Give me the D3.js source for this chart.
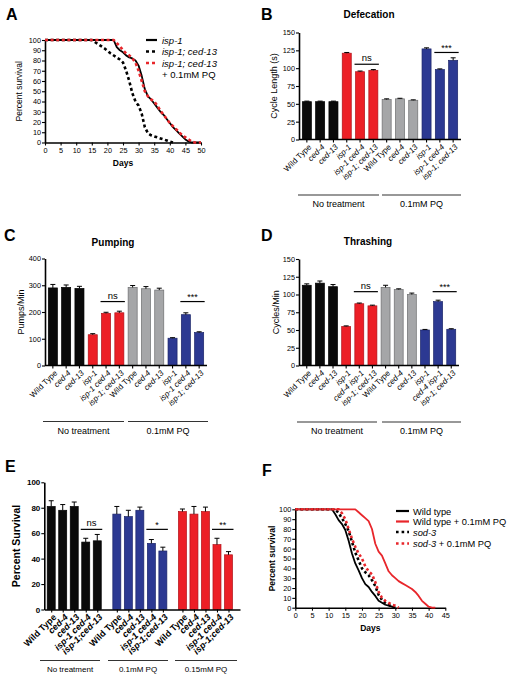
<!DOCTYPE html>
<html><head><meta charset="utf-8">
<script src="https://cdn.jsdelivr.net/npm/d3@7"></script>
<style>
body{margin:0;background:#fff;}
svg{display:block;font-family:"Liberation Sans",Arial,sans-serif;}
</style></head>
<body><svg id="c" width="512" height="677"></svg>
<script>
// ---------- DATA ----------
// Panel A
const aIspDays   = [0,22,23,24,25,26,27,28,29,30,31,32,33,34,35,36,37,38,39,40,41,42,43,44,45,46,47,50];
const aIsp       = [100,100,93,90,88,85,83,82,80,75,65,52,45,42,38,34,30,27,23,19,15,12,9,6,3,1,0,0];
const aCedDays   = [0,15,17,19,21,23,24,25,26,27,28,29,30,31,32,33,34,35,37,39,40,41];
const aCed       = [100,100,96,92,87,83,81,78,70,60,48,40,36,28,15,9,7,6,4,2,1,0];
const aCedPQDays = [0,22,23,24,25,26,27,28,29,30,31,32,33,34,35,36,37,38,39,40,41,42,43,44,45,46,47,48,50];
const aCedPQ     = [100,100,97,94,90,87,85,82,78,70,60,50,45,42,40,36,31,27,23,19,16,13,10,7,5,3,1,0,0];
const aLegend    = ["isp-1","isp-1; ced-13","isp-1; ced-13","+ 0.1mM PQ"];

// Panels B, C, D
const labelsB = ["Wild Type","ced-4","ced-13","isp-1","isp-1 ced-4","isp-1; ced-13","Wild Type","ced-4","ced-13","isp-1","isp-1 ced-4","isp-1; ced-13"];
const labelsD = ["Wild Type","ced-4","ced-13","isp-1","ced-4 isp-1","isp-1; ced-13","Wild Type","ced-4","ced-13","isp-1","ced-4 isp-1","isp-1; ced-13"];
const groupOf12 = ["k","k","k","r","r","r","g","g","g","b","b","b"];
const defecation    = [53,53,53,121,95,97,56,57,55,127,98,111];
const defecationErr = [0.8,0.8,0.8,1,1,1,1,0.8,0.6,1.5,1,3.5];
const pumping       = [290,292,288,115,195,197,292,287,282,102,190,123];
const pumpingErr    = [13,9,8,4,4,6,7,8,7,2,7,3];
const thrashing     = [113,116,111,55,87,84,110,107,100,50,90,51];
const thrashingErr  = [2,3,3,0.8,1,1,3,1,2,0.8,2,0.8];
const treatments2 = ["No treatment","0.1mM PQ"];

// Panel E
const labelsE = ["Wild Type","ced-4","ced-13","isp-1 ced-4","isp-1;ced-13","Wild Type","ced-4","ced-13","isp-1 ced-4","isp-1;ced-13","Wild Type","ced-4","ced-13","isp-1 ced-4","isp-1;ced-13"];
const groupOfE = ["k","k","k","k","k","b","b","b","b","b","r","r","r","r","r"];
const survivalE    = [81,78,81,53,54,75,73,78,52,46,77,75,77,51,43];
const survivalEErr = [4.5,4.5,3.5,3,5,6,5,2.5,3,3,2,6,3.5,5,2.5];
const treatments3 = ["No treatment","0.1mM PQ","0.15mM PQ"];

// Panel F
const fWtDays    = [0,11,12,13,14,15,16,17,18,19,20,21,22,23,24,25,26,27,28,29,30];
const fWt        = [100,100,95,89,85,79,68,55,45,38,30,24,21,16,12,7,5,3,2,1,0];
const fWtPQDays  = [0,18,19,20,21,22,23,24,25,26,27,28,29,30,31,32,33,34,35,36,37,38,39,40,41,42];
const fWtPQ      = [100,100,97,94,91,88,80,65,57,53,45,37,33,30,27,25,23,21,19,16,12,7,4,1,0,0];
const fSodDays   = [0,12,13,14,15,16,17,18,19,20,21,22,23,24,25,26,27,28,29,30];
const fSod       = [100,100,96,91,85,78,67,56,48,40,36,33,28,22,13,8,5,3,1,0];
const fSodPQDays = [0,13,14,15,16,17,18,19,20,21,22,23,24,25,26,27,28,29,30,31];
const fSodPQ     = [100,100,96,90,80,70,62,55,50,42,37,34,26,16,10,7,5,3,2,0];

// ---------- STYLE ----------
const FILL = {k:"#0a0a0a", r:"#ec1f26", g:"#a5a6a8", b:"#2c3992"};
const EDGE = {k:"#000", r:"#b01018", g:"#6d6e70", b:"#1b2468"};
const RED = "#e8262b";
const FONT = '"Liberation Sans",Arial,sans-serif';

const svg = d3.select("#c");
svg.append("rect").attr("width",512).attr("height",677).attr("fill","#fff");

function letter(t,x,y){
  svg.append("text").attr("x",x).attr("y",y).text(t)
    .attr("font-size",16).attr("font-weight","bold").attr("fill","#000");
}
function styleAxis(g, fs, bold){
  g.select(".domain").attr("stroke","#000").attr("stroke-width",1.6);
  g.selectAll(".tick line").attr("stroke","#000").attr("stroke-width",1.1);
  g.selectAll(".tick text").attr("font-size",fs).attr("font-family",FONT)
    .attr("font-weight",bold?"bold":"normal").attr("fill","#000");
}
function yLabel(t,x,y,fs,bold){
  svg.append("text").attr("transform",`translate(${x},${y}) rotate(-90)`)
    .attr("text-anchor","middle").attr("font-size",fs)
    .attr("font-weight",bold?"bold":"normal").text(t);
}
function isItalic(l){ return l !== "Wild Type"; }

// ---------- SURVIVAL PANEL ----------
function survival(o){
  const x = d3.scaleLinear().domain([0,o.xmax]).range([o.x0,o.x1]);
  const y = d3.scaleLinear().domain([0,100]).range([o.y0,o.y1]);
  const gx = svg.append("g").attr("transform",`translate(0,${o.y0})`)
    .call(d3.axisBottom(x).tickValues(d3.range(0,o.xmax+1,5)).tickSize(3).tickSizeOuter(0).tickPadding(2));
  styleAxis(gx,7.3,false);
  const gy = svg.append("g").attr("transform",`translate(${o.x0},0)`)
    .call(d3.axisLeft(y).tickValues(d3.range(0,101,10)).tickSize(3).tickSizeOuter(0).tickPadding(1));
  styleAxis(gy,7.3,false);
  const line = d3.line().x(d=>x(d[0])).y(d=>y(d[1]));
  o.series.forEach(s=>{
    svg.append("path").datum(d3.zip(s.days,s.vals)).attr("d",line)
      .attr("fill","none").attr("stroke",s.color).attr("stroke-width",s.w)
      .attr("stroke-dasharray",s.dash||null).attr("stroke-linejoin","round");
  });
  svg.append("text").attr("x",(o.x0+o.x1)/2).attr("y",o.daysY).attr("text-anchor","middle")
    .attr("font-size",8.5).attr("font-weight","bold").text("Days");
  yLabel("Percent survival",o.ylx,(o.y0+o.y1)/2,8.5,o.ylBold);
}

// Panel A
letter("A",6,20);
survival({x0:45,x1:201,y0:142.5,y1:40,xmax:50,daysY:166,ylx:22,ylBold:false,series:[
  {days:aIspDays,vals:aIsp,color:"#000",w:1.8},
  {days:aCedDays,vals:aCed,color:"#000",w:2.6,dash:"3,2.6"},
  {days:aCedPQDays,vals:aCedPQ,color:RED,w:2.6,dash:"3,2.6"}
]});
{
  const lx0=146, lx1=157, tx=162, rows=[40,51.5,63];
  const st=[{c:"#000",w:2.2,d:null},{c:"#000",w:2.6,d:"3,3"},{c:RED,w:2.6,d:"3,3"}];
  rows.forEach((ry,i)=>{
    svg.append("line").attr("x1",lx0).attr("x2",lx1).attr("y1",ry).attr("y2",ry)
      .attr("stroke",st[i].c).attr("stroke-width",st[i].w).attr("stroke-dasharray",st[i].d);
    svg.append("text").attr("x",tx).attr("y",ry+3.5).attr("font-size",9.5)
      .attr("font-style","italic").text(aLegend[i]);
  });
  svg.append("text").attr("x",tx).attr("y",77.5).attr("font-size",9.5).text(aLegend[3]);
}

// ---------- BAR PANEL ----------
function barPanel(o){
  const idx = d3.range(o.values.length);
  const x = d3.scaleBand().domain(idx).range([o.x0,o.x1]).paddingInner(0.32).paddingOuter(0.25);
  const y = d3.scaleLinear().domain([0,o.ymax]).range([o.y0,o.y1]);
  const gy = svg.append("g").attr("transform",`translate(${o.x0},0)`)
    .call(d3.axisLeft(y).tickValues(o.yticks).tickSize(3).tickSizeOuter(0).tickPadding(1));
  styleAxis(gy,7.3,false);
  // bars
  svg.append("g").selectAll("rect").data(idx).join("rect")
    .attr("x",i=>x(i)).attr("width",x.bandwidth())
    .attr("y",i=>y(o.values[i])).attr("height",i=>o.y0-y(o.values[i]))
    .attr("fill",i=>FILL[o.groups[i]]).attr("stroke",i=>EDGE[o.groups[i]]).attr("stroke-width",0.7);
  // error bars
  const eg = svg.append("g").attr("stroke","#000").attr("stroke-width",1);
  idx.forEach(i=>{
    const cx = x(i)+x.bandwidth()/2, top=y(o.values[i]+o.errs[i]);
    eg.append("line").attr("x1",cx).attr("x2",cx).attr("y1",y(o.values[i])).attr("y2",top);
    eg.append("line").attr("x1",cx-2.5).attr("x2",cx+2.5).attr("y1",top).attr("y2",top);
  });
  const gx = svg.append("g").attr("transform",`translate(0,${o.y0})`)
    .call(d3.axisBottom(x).tickFormat(i=>o.labels[i]).tickSize(3).tickSizeOuter(0));
  styleAxis(gx,8,false);
  gx.select(".domain").attr("d",`M${o.x0},0H${o.x1}`);
  gx.selectAll(".tick text").attr("text-anchor","end").attr("dy","0.35em").attr("y",0).attr("x",0)
    .attr("transform","translate(3,6) rotate(-45)")
    .attr("font-style",i=>isItalic(o.labels[i])?"italic":"normal");
  // significance
  o.sig.forEach(s=>{
    const xa = x(s.a)-1, xb = x(s.b)+x.bandwidth()+1, yy = y(s.v);
    svg.append("line").attr("x1",xa).attr("x2",xb).attr("y1",yy).attr("y2",yy)
      .attr("stroke","#000").attr("stroke-width",1.2);
    svg.append("text").attr("x",(xa+xb)/2).attr("y",yy-(s.t==="ns"?3:1.5)).attr("text-anchor","middle")
      .attr("font-size",s.t==="ns"?9.5:9).text(s.t);
  });
  // group lines
  o.groupLines.forEach((g,i)=>{
    svg.append("line").attr("x1",g[0]).attr("x2",g[1]).attr("y1",o.gy).attr("y2",o.gy)
      .attr("stroke","#333").attr("stroke-width",1.1);
    svg.append("text").attr("x",(g[0]+g[1])/2).attr("y",o.gy+12).attr("text-anchor","middle")
      .attr("font-size",9).text(o.groupNames[i]);
  });
  if(o.title) svg.append("text").attr("x",o.tx).attr("y",o.ty).attr("text-anchor","middle")
    .attr("font-size",10).attr("font-weight","bold").text(o.title);
  yLabel(o.ylabel,o.ylx,(o.y0+o.y1)/2,9,false);
}

// Panel B
letter("B",261,20);
barPanel({x0:299,x1:461,y0:139.5,y1:32.5,ymax:150,yticks:[0,25,50,75,100,125,150],
  values:defecation,errs:defecationErr,labels:labelsB,groups:groupOf12,
  sig:[{a:4,b:5,v:105.5,t:"ns"},{a:10,b:11,v:122,t:"***"}],
  groupLines:[[298,379],[382,461]],gy:195,groupNames:treatments2,
  title:"Defecation",tx:369,ty:18,ylabel:"Cycle Length (s)",ylx:277});

// Panel C
letter("C",4,241);
barPanel({x0:45,x1:207,y0:365.5,y1:258.5,ymax:400,yticks:[0,100,200,300,400],
  values:pumping,errs:pumpingErr,labels:labelsB,groups:groupOf12,
  sig:[{a:4,b:5,v:239,t:"ns"},{a:10,b:11,v:239,t:"***"}],
  groupLines:[[43,124],[128,208]],gy:421.5,groupNames:treatments2,
  title:"Pumping",tx:113,ty:246,ylabel:"Pumps/Min",ylx:24});

// Panel D
letter("D",261,241);
barPanel({x0:299,x1:459,y0:365.5,y1:259,ymax:150,yticks:[0,25,50,75,100,125,150],
  values:thrashing,errs:thrashingErr,labels:labelsD,groups:groupOf12,
  sig:[{a:4,b:5,v:104,t:"ns"},{a:10,b:11,v:104,t:"***"}],
  groupLines:[[297,377],[382,461]],gy:422,groupNames:treatments2,
  title:"Thrashing",tx:368,ty:245,ylabel:"Cycles/Min",ylx:279});

// ---------- PANEL E ----------
letter("E",5,472);
{
  const x0=44.3, x1=240, y0=609.5, y1=482.3;
  const pos = i => i + Math.floor(i/5)*0.7;
  const x = d3.scaleLinear().domain([-0.6,16.4]).range([x0,x1]);
  const y = d3.scaleLinear().domain([0,100]).range([y0,y1]);
  const bw = 8;
  const idx = d3.range(survivalE.length);
  const gy = svg.append("g").attr("transform",`translate(${x0},0)`)
    .call(d3.axisLeft(y).tickValues([0,20,40,60,80,100]).tickSize(3).tickSizeOuter(0).tickPadding(1));
  styleAxis(gy,8,true);
  svg.append("g").selectAll("rect").data(idx).join("rect")
    .attr("x",i=>x(pos(i))-bw/2).attr("width",bw)
    .attr("y",i=>y(survivalE[i])).attr("height",i=>y0-y(survivalE[i]))
    .attr("fill",i=>FILL[groupOfE[i]]).attr("stroke",i=>EDGE[groupOfE[i]]).attr("stroke-width",0.7);
  const eg = svg.append("g").attr("stroke","#000").attr("stroke-width",1);
  idx.forEach(i=>{
    const cx = x(pos(i)), top=y(survivalE[i]+survivalEErr[i]);
    eg.append("line").attr("x1",cx).attr("x2",cx).attr("y1",y(survivalE[i])).attr("y2",top);
    eg.append("line").attr("x1",cx-2.5).attr("x2",cx+2.5).attr("y1",top).attr("y2",top);
  });
  const gx = svg.append("g").attr("transform",`translate(0,${y0})`)
    .call(d3.axisBottom(x).tickValues(idx.map(pos)).tickFormat((d,i)=>labelsE[i]).tickSize(3).tickSizeOuter(0));
  styleAxis(gx,9,true);
  gx.selectAll(".tick text").attr("text-anchor","end").attr("dy","0.35em").attr("y",0).attr("x",0)
    .attr("transform","translate(3,6) rotate(-45)")
    .attr("font-style",(d,i)=>isItalic(labelsE[i])?"italic":"normal");
  const sigE = [{a:3,b:4,t:"ns",v:63},{a:8,b:9,t:"*",v:63},{a:13,b:14,t:"**",v:63}];
  sigE.forEach(s=>{
    const xa=x(pos(s.a))-bw/2-1, xb=x(pos(s.b))+bw/2+1, yy=y(s.v);
    svg.append("line").attr("x1",xa).attr("x2",xb).attr("y1",yy).attr("y2",yy)
      .attr("stroke","#000").attr("stroke-width",1.2);
    svg.append("text").attr("x",(xa+xb)/2).attr("y",yy-(s.t==="ns"?3:1.5)).attr("text-anchor","middle")
      .attr("font-size",s.t==="ns"?9.5:9).text(s.t);
  });
  const gl=[[40,100],[108,168],[175,237]];
  gl.forEach((g,i)=>{
    svg.append("line").attr("x1",g[0]).attr("x2",g[1]).attr("y1",660.5).attr("y2",660.5)
      .attr("stroke","#333").attr("stroke-width",1.1);
    svg.append("text").attr("x",(g[0]+g[1])/2).attr("y",672).attr("text-anchor","middle")
      .attr("font-size",8).text(treatments3[i]);
  });
  yLabel("Percent  Survival",20,546,10.5,true);
}

// ---------- PANEL F ----------
letter("F",262,476);
survival({x0:295.3,x1:445.3,y0:607.7,y1:509.3,xmax:45,daysY:631,ylx:275,ylBold:true,series:[
  {days:fWtDays,vals:fWt,color:"#000",w:1.8},
  {days:fWtPQDays,vals:fWtPQ,color:RED,w:1.8},
  {days:fSodDays,vals:fSod,color:"#000",w:2.6,dash:"2.6,2.6"},
  {days:fSodPQDays,vals:fSodPQ,color:RED,w:2.6,dash:"2.6,2.6"}
]});
{
  const lx0=396, lx1=409, tx=413, rows=[511,521.5,532,543.5];
  const st=[{c:"#000",w:2.2,d:null},{c:RED,w:2.2,d:null},{c:"#000",w:2.6,d:"2.6,3"},{c:RED,w:2.6,d:"2.6,3"}];
  rows.forEach((ry,i)=>{
    svg.append("line").attr("x1",lx0).attr("x2",lx1).attr("y1",ry).attr("y2",ry)
      .attr("stroke",st[i].c).attr("stroke-width",st[i].w).attr("stroke-dasharray",st[i].d);
  });
  const t=(ry)=>svg.append("text").attr("x",tx).attr("y",ry+3.5).attr("font-size",9.3);
  t(rows[0]).text("Wild type");
  t(rows[1]).text("Wild type + 0.1mM PQ");
  t(rows[2]).attr("font-style","italic").text("sod-3");
  const l4=t(rows[3]);
  l4.append("tspan").attr("font-style","italic").text("sod-3");
  l4.append("tspan").text(" + 0.1mM PQ");
}
</script></body></html>
